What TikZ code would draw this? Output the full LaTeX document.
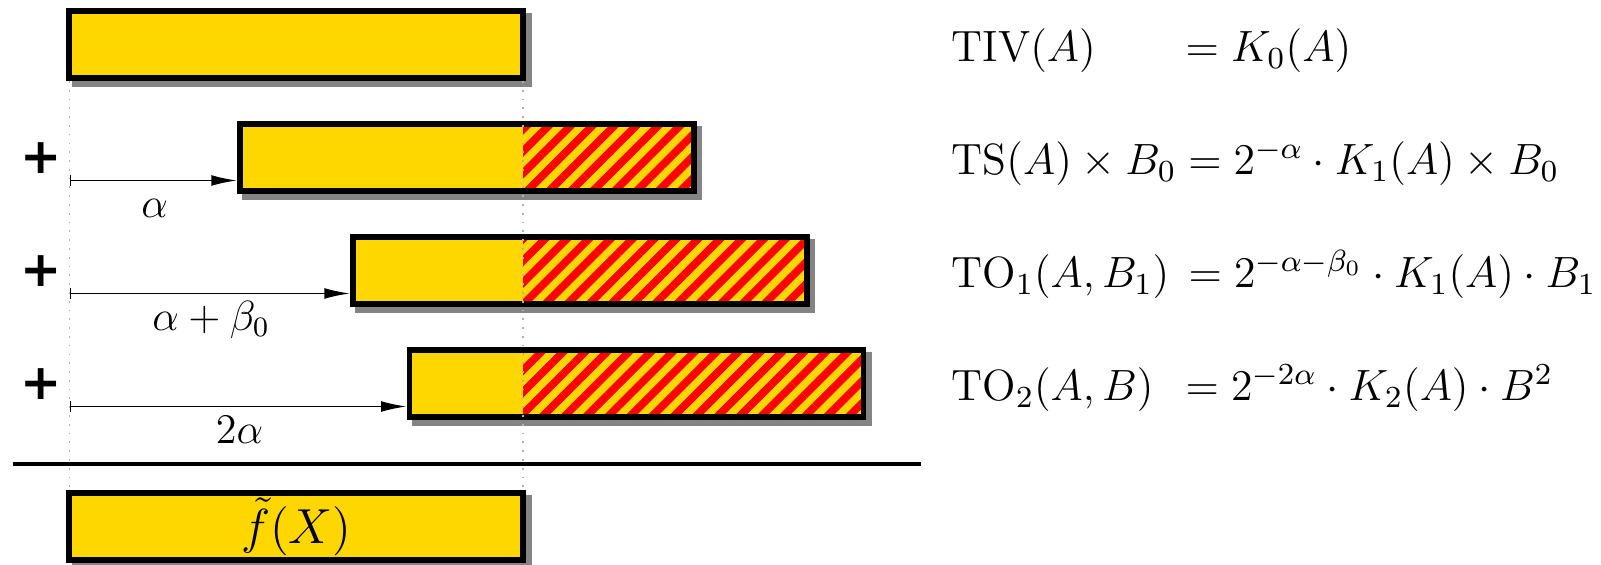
\RequirePackage{fix-cm}
\documentclass[tikz,border=0pt]{standalone}
\usepackage{fontspec}
\newfontfamily\plusfont{DejaVu Sans}
\usetikzlibrary{arrows.meta,patterns.meta}
\definecolor{barfill}{RGB}{255,215,0}
\definecolor{shadowc}{RGB}{132,132,132}
\tikzset{
  bar/.style={rectangle, minimum width=4.536cm, minimum height=0.675cm, line width=0.058cm, inner sep=0pt, outer sep=0pt},
  barbox/.style={bar, draw=black, fill=barfill},
  shadowbox/.style={bar, draw=shadowc, fill=shadowc},
  hatched/.style={path picture={\fill[pattern={Lines[angle=45,distance=4.4pt,line width=2.2pt]}, pattern color=red] (hx |- path picture bounding box.north) rectangle (path picture bounding box.south east);}},
  shiftarrow/.style={line width=0.5pt, {Bar[width=3.1pt]}-{Latex[length=7.3pt,width=3.1pt]}, shorten >=0.029cm},
  guide/.style={draw=black!30, dotted, line width=0.5pt},
  plussign/.style={font=\plusfont\bfseries\fontsize{14}{14}\selectfont, inner sep=0pt},
  eq/.style={font=\fontsize{12.45}{15}\selectfont, inner sep=0pt, anchor=base west},
  shiftlabel/.style={font=\fontsize{12}{14}\selectfont, inner sep=0pt, anchor=base},
  rulebar/.style={line width=0.95pt},
}
\begin{document}
\begin{tikzpicture}[x=0.01cm, y=-0.01cm]
\useasboundingbox (0,0) rectangle (1601,565);
\coordinate (hx) at (523,0);
% shadows
\node[shadowbox] (s1) at (301.8,50) {};
\node[shadowbox] (s2) at (472.3,163) {};
\node[shadowbox] (s3) at (585.3,276) {};
\node[shadowbox] (s4) at (642,389) {};
\node[shadowbox] (s5) at (301.8,532) {};
% bars
\node[barbox] (b1) at (296.3,44.5) {};
\node[barbox, hatched] (b2) at (466.8,157.5) {};
\node[barbox, hatched] (b3) at (579.8,270.5) {};
\node[barbox, hatched] (b4) at (636.5,383.5) {};
\node[barbox, font=\fontsize{14}{16}\selectfont] (b5) at (296.3,526.5) {$\tilde{f}(X)$};
% guides
\coordinate (g1t) at (69.5,81);
\coordinate (g1b) at (69.5,489);
\coordinate (g2t) at (523,81);
\coordinate (g2b) at (523,489);
\draw[guide] (g1t) -- (g1b);
\draw[guide] (g2t) -- (g2b);
% plus signs
\node[plussign] (p2) at (41,158) {+};
\node[plussign] (p3) at (41,271) {+};
\node[plussign] (p4) at (41,384) {+};
% shift arrows
\coordinate (a2s) at (69.5,180.5);
\coordinate (a3s) at (69.5,293.5);
\coordinate (a4s) at (69.5,406.5);
\draw[shiftarrow] (a2s) -- (b2.west |- a2s) node[midway, shiftlabel, yshift=-0.37cm] (l2) {$\alpha$};
\draw[shiftarrow] (a3s) -- (b3.west |- a3s) node[midway, shiftlabel, yshift=-0.37cm] (l3) {$\alpha+\beta_0$};
\draw[shiftarrow] (a4s) -- (b4.west |- a4s) node[midway, shiftlabel, yshift=-0.37cm] (l4) {$2\alpha$};
% rule
\coordinate (r0) at (12.5,464);
\coordinate (r1) at (921,464);
\draw[rulebar] (r0) -- (r1);
% equations
\node[eq] (e1l) at (951,61.7) {$\mathrm{TIV}(A)$};
\node[eq] (e1r) at (1185,61.7) {$=K_0(A)$};
\node[eq] (e2) at (951,174.7) {$\mathrm{TS}(A)\times B_0 = 2^{-\alpha}\cdot K_1(A)\times B_0$};
\node[eq] (e3l) at (951,287.7) {$\mathrm{TO}_1(A,B_1)$};
\node[eq] (e3r) at (1188,287.7) {$=2^{-\alpha-\beta_0}\cdot K_1(A)\cdot B_1$};
\node[eq] (e4l) at (951,400.7) {$\mathrm{TO}_2(A,B)$};
\node[eq] (e4r) at (1185,400.7) {$=2^{-2\alpha}\cdot K_2(A)\cdot B^2$};
\end{tikzpicture}
\end{document}
